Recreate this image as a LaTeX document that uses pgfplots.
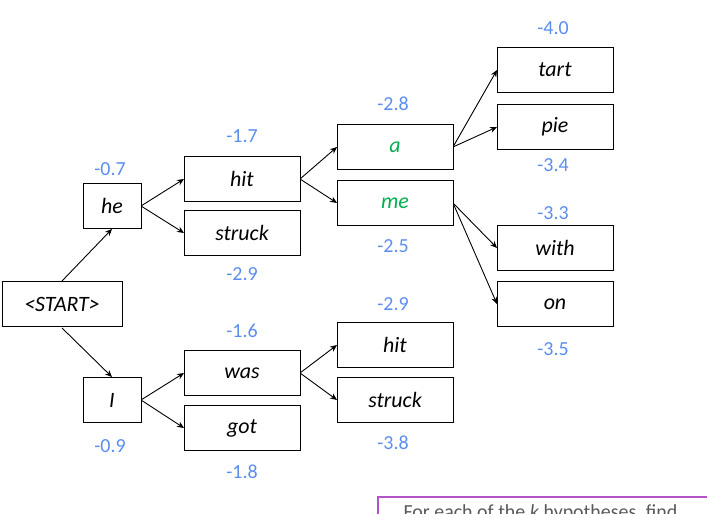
\documentclass[border=0pt]{standalone}
\usepackage{pgfplots}
\pgfplotsset{compat=1.18}
\usepackage{fontspec}
\setmainfont{Carlito}
\usetikzlibrary{arrows.meta}
\definecolor{sc}{HTML}{5B8DEF}
\definecolor{gr}{HTML}{00B050}
\definecolor{pu}{HTML}{B452C8}
\begin{document}
\begin{tikzpicture}
\begin{axis}[width=707bp,height=514bp,scale only axis,xmin=0,xmax=707,ymin=-514,ymax=0,
 axis lines=none,clip=false,
 box/.style={only marks,mark=none,nodes near coords,point meta=explicit symbolic,
  every node near coord/.append style={anchor=center,draw,line width=1pt,fill=white,
   inner sep=0pt,minimum height=45bp,font=\fontsize{22}{22}\selectfont\itshape}}]
\addplot[box,every node near coord/.append style={minimum width=116bp}] table[meta=l]{
x y l
242 -179 hit
242 -233 struck
242 -373 was
242 -428 got
395 -345 hit
395 -400 struck
555 -70 tart
555 -127 pie
555 -248 with
555 -304 on
};
\addplot[box,every node near coord/.append style={minimum width=116bp,text=gr}] table[meta=l]{
x y l
395 -147 a
395 -203 me
};
\addplot[box,every node near coord/.append style={minimum width=58bp}] table[meta=l]{
x y l
112 -206 he
112 -400 I
};
\addplot[box,every node near coord/.append style={minimum width=120bp}] table[meta=l]{
x y l
62 -304 <START>
};
\addplot[only marks,mark=none,nodes near coords,point meta=explicit symbolic,
 every node near coord/.append style={anchor=center,text=sc,font=\fontsize{20}{20}\selectfont}] table[meta=l]{
x y l
110 -169 -0.7
110 -446 -0.9
242 -136 -1.7
242 -274 -2.9
242 -331 -1.6
242 -472 -1.8
393 -104 -2.8
393 -246 -2.5
393 -304 -2.9
393 -443 -3.8
553 -28 -4.0
553 -165 -3.4
553 -213 -3.3
553 -349 -3.5
};
\begin{scope}[-{Stealth[length=7pt,width=6pt]},line width=0.9pt]
\draw (axis cs:62,-281) -- (axis cs:112,-229);
\draw (axis cs:62,-328) -- (axis cs:112,-377);
\draw (axis cs:141,-206) -- (axis cs:184,-179);
\draw (axis cs:141,-206) -- (axis cs:184,-233);
\draw (axis cs:141,-400) -- (axis cs:184,-373);
\draw (axis cs:141,-400) -- (axis cs:184,-428);
\draw (axis cs:300,-179) -- (axis cs:337,-147);
\draw (axis cs:300,-179) -- (axis cs:337,-203);
\draw (axis cs:300,-373) -- (axis cs:337,-345);
\draw (axis cs:300,-373) -- (axis cs:337,-400);
\draw (axis cs:453,-147) -- (axis cs:497,-70);
\draw (axis cs:453,-147) -- (axis cs:497,-127);
\draw (axis cs:453,-203) -- (axis cs:497,-248);
\draw (axis cs:453,-203) -- (axis cs:497,-304);
\end{scope}
\draw[pu,line width=1.2pt] (axis cs:378,-530) -- (axis cs:378,-497) -- (axis cs:720,-497);
\node[anchor=north west,text=gray!70!black,font=\fontsize{20}{20}\selectfont] at (axis cs:400,-501) {For each of the \textit{k} hypotheses, find};
\end{axis}
\pgfresetboundingbox
\path (current axis.south west) rectangle (current axis.north east);
\end{tikzpicture}
\end{document}
